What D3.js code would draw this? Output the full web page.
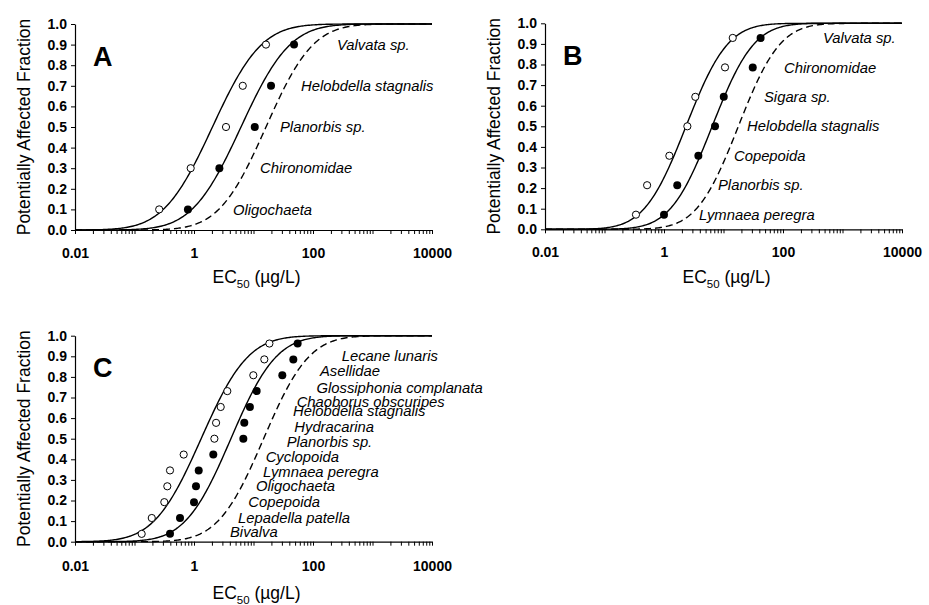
<!DOCTYPE html>
<html>
<head>
<meta charset="utf-8">
<script src="https://cdn.jsdelivr.net/npm/d3@7"></script>
<style>
  html, body { margin: 0; padding: 0; background: #fff; }
  svg { display: block; font-family: "Liberation Sans", Arial, sans-serif; }
</style>
</head>
<body>
<svg id="chart" width="929" height="605"></svg>
<script>
// ---------------- DATA ----------------
const xTickValues = [0.01, 1, 100, 10000];
const xTickLabels = ["0.01", "1", "100", "10000"];
const yTickValues = [0, 0.1, 0.2, 0.3, 0.4, 0.5, 0.6, 0.7, 0.8, 0.9, 1.0];

// Panel A (bottom to top)
const speciesA = ["Oligochaeta", "Chironomidae", "Planorbis sp.", "Helobdella stagnalis", "Valvata sp."];
const fractionA = [0.1, 0.3, 0.5, 0.7, 0.9];
const openA = [0.26, 0.88, 3.45, 6.6, 16.2];
const filledA = [0.79, 2.67, 10.5, 19.7, 48];
const fitMuA = [0.31, 0.79, 1.21];      // log10 mean of fitted curves (open, filled, dashed)
const fitSigmaA = [0.645, 0.645, 0.62]; // log10 sd of fitted curves

// Panel B (bottom to top)
const speciesB = ["Lymnaea peregra", "Planorbis sp.", "Copepoida", "Helobdella stagnalis", "Sigara sp.", "Chironomidae", "Valvata sp."];
const fractionB = [0.071, 0.214, 0.357, 0.5, 0.643, 0.786, 0.929];
const openB = [0.338, 0.52, 1.23, 2.47, 3.36, 10.6, 14.3];
const filledB = [1.0, 1.67, 3.78, 7.2, 10.1, 31, 42];
const fitMuB = [0.37, 0.81, 1.25];
const fitSigmaB = [0.55, 0.55, 0.55];

// Panel C (bottom to top)
const speciesC = ["Bivalva", "Lepadella patella", "Copepoida", "Oligochaeta", "Lymnaea peregra", "Cyclopoida", "Planorbis sp.", "Hydracarina", "Helobdella stagnalis", "Chaoborus obscuripes", "Glossiphonia complanata", "Asellidae", "Lecane lunaris"];
const fractionC = [0.038, 0.115, 0.192, 0.269, 0.346, 0.423, 0.5, 0.577, 0.654, 0.731, 0.808, 0.885, 0.962];
const openC = [0.132, 0.195, 0.317, 0.356, 0.395, 0.671, 2.20, 2.35, 2.81, 3.63, 9.93, 15.2, 18.5];
const filledC = [0.395, 0.582, 1.0, 1.08, 1.2, 2.11, 6.75, 7.0, 8.7, 11.3, 30.5, 46.7, 55.2];
const fitMuC = [0.12, 0.62, 1.17];
const fitSigmaC = [0.62, 0.60, 0.60];

// ---------------- LAYOUT ----------------
const FONT = '"Liberation Sans", Arial, sans-serif';
const plotW = 357, plotH = 206;

// label placement (px relative to plot origin: left edge, top)
const labelLayoutA = [[158, 0], [185, 0], [205, 0], [226, 0], [262, 0]];   // x offsets, y follows fraction
const labelLayoutB = [[154, 0], [173, 0], [189, 0], [202, 0], [219, 0], [239, 0], [278, 0]];
const labelLayoutC = [[155, 196], [163, 182.6], [173.3, 166.6], [181, 150.3], [188, 136], [190.7, 121], [211.7, 106], [219.3, 91.6], [218, 75.3], [221.7, 66], [241.5, 52.6], [245, 35.3], [266.7, 20.3]];

const panels = [
  { letter: "A", left: 75, top: 24, species: speciesA, frac: fractionA, open: openA, filled: filledA,
    mu: fitMuA, sigma: fitSigmaA, labels: labelLayoutA, labelsFollowFrac: true, tickPad: 14, titleOff: 47 },
  { letter: "B", left: 545, top: 23.3, species: speciesB, frac: fractionB, open: openB, filled: filledB,
    mu: fitMuB, sigma: fitSigmaB, labels: labelLayoutB, labelsFollowFrac: true, tickPad: 14, titleOff: 47.5 },
  { letter: "C", left: 75, top: 335.7, species: speciesC, frac: fractionC, open: openC, filled: filledC,
    mu: fitMuC, sigma: fitSigmaC, labels: labelLayoutC, labelsFollowFrac: false, tickPad: 15.5, titleOff: 51.5 }
];

// normal CDF
function erf(x) {
  const s = x < 0 ? -1 : 1; x = Math.abs(x);
  const t = 1 / (1 + 0.3275911 * x);
  const y = 1 - (((((1.061405429 * t - 1.453152027) * t) + 1.421413741) * t - 0.284496736) * t + 0.254829592) * t * Math.exp(-x * x);
  return s * y;
}
const Phi = z => 0.5 * (1 + erf(z / Math.SQRT2));

const svg = d3.select("#chart");
svg.append("rect").attr("width", 929).attr("height", 605).attr("fill", "#fff");

// minor tick values (log decades)
const minorTicks = [];
for (let d = -2; d <= 3; d++) for (let k = 1; k <= 9; k++) minorTicks.push(+(k * Math.pow(10, d)).toPrecision(3));
minorTicks.push(10000);

panels.forEach(p => {
  const g = svg.append("g").attr("transform", `translate(${p.left},${p.top})`);
  const x = d3.scaleLog().domain([0.01, 10000]).range([0, plotW]);
  const y = d3.scaleLinear().domain([0, 1]).range([plotH, 0]);

  // fitted curves
  const logs = d3.range(-2, 4.0001, 0.02);
  const line = d3.line().x(d => x(Math.pow(10, d[0]))).y(d => y(d[1]));
  p.mu.forEach((mu, i) => {
    const pts = logs.map(l => [l, Phi((l - mu) / p.sigma[i])]);
    g.append("path").datum(pts)
      .attr("d", line)
      .attr("fill", "none")
      .attr("stroke", "#000")
      .attr("stroke-width", 1.4)
      .attr("stroke-dasharray", i === 2 ? "7,4" : null);
  });

  // axes
  const yAxis = d3.axisLeft(y).tickValues(yTickValues).tickSize(4).tickSizeOuter(0).tickPadding(4)
    .tickFormat(d3.format(".1f"));
  const ya = g.append("g").call(yAxis);
  const xAxis = d3.axisBottom(x).tickValues(minorTicks).tickSize(4).tickSizeOuter(0).tickPadding(p.tickPad)
    .tickFormat(v => { const i = xTickValues.indexOf(v); return i >= 0 ? xTickLabels[i] : ""; });
  const xa = g.append("g").attr("transform", `translate(0,${plotH})`).call(xAxis);
  [ya, xa].forEach(a => {
    a.selectAll("text").attr("font-family", FONT).attr("font-size", 14).attr("font-weight", "bold").attr("fill", "#000");
    a.selectAll("line").attr("stroke", "#000");
    a.select(".domain").attr("stroke", "#000").attr("stroke-width", 1.2);
  });

  // points
  g.selectAll("circle.open").data(p.open).join("circle")
    .attr("class", "open")
    .attr("cx", d => x(d)).attr("cy", (d, i) => y(p.frac[i])).attr("r", 3.6)
    .attr("fill", "#fff").attr("stroke", "#000").attr("stroke-width", 1);
  g.selectAll("circle.filled").data(p.filled).join("circle")
    .attr("class", "filled")
    .attr("cx", d => x(d)).attr("cy", (d, i) => y(p.frac[i])).attr("r", 4)
    .attr("fill", "#000");

  // species labels
  g.selectAll("text.sp").data(p.species).join("text")
    .attr("class", "sp")
    .attr("x", (d, i) => p.labels[i][0])
    .attr("y", (d, i) => p.labelsFollowFrac ? y(p.frac[i]) : p.labels[i][1])
    .attr("dy", "0.35em")
    .attr("font-family", FONT).attr("font-size", 14.8).attr("font-style", "italic")
    .text(d => d);

  // panel letter
  g.append("text").attr("x", 18).attr("y", 41.5)
    .attr("font-family", FONT).attr("font-size", 27).attr("font-weight", "bold")
    .text(p.letter);

  // y title
  g.append("text")
    .attr("transform", `translate(-51,${plotH / 2}) rotate(-90)`)
    .attr("text-anchor", "middle").attr("dy", "0.35em")
    .attr("font-family", FONT).attr("font-size", 17.5)
    .text("Potentially Affected Fraction");

  // x title
  const xt = g.append("text")
    .attr("x", plotW / 2 + 3).attr("y", plotH + p.titleOff)
    .attr("text-anchor", "middle").attr("dy", "0.35em")
    .attr("font-family", FONT).attr("font-size", 17.5);
  xt.append("tspan").text("EC");
  xt.append("tspan").attr("font-size", 11.5).attr("dy", 5).text("50");
  xt.append("tspan").attr("dy", -5).text(" (µg/L)");
});
</script>
</body>
</html>
